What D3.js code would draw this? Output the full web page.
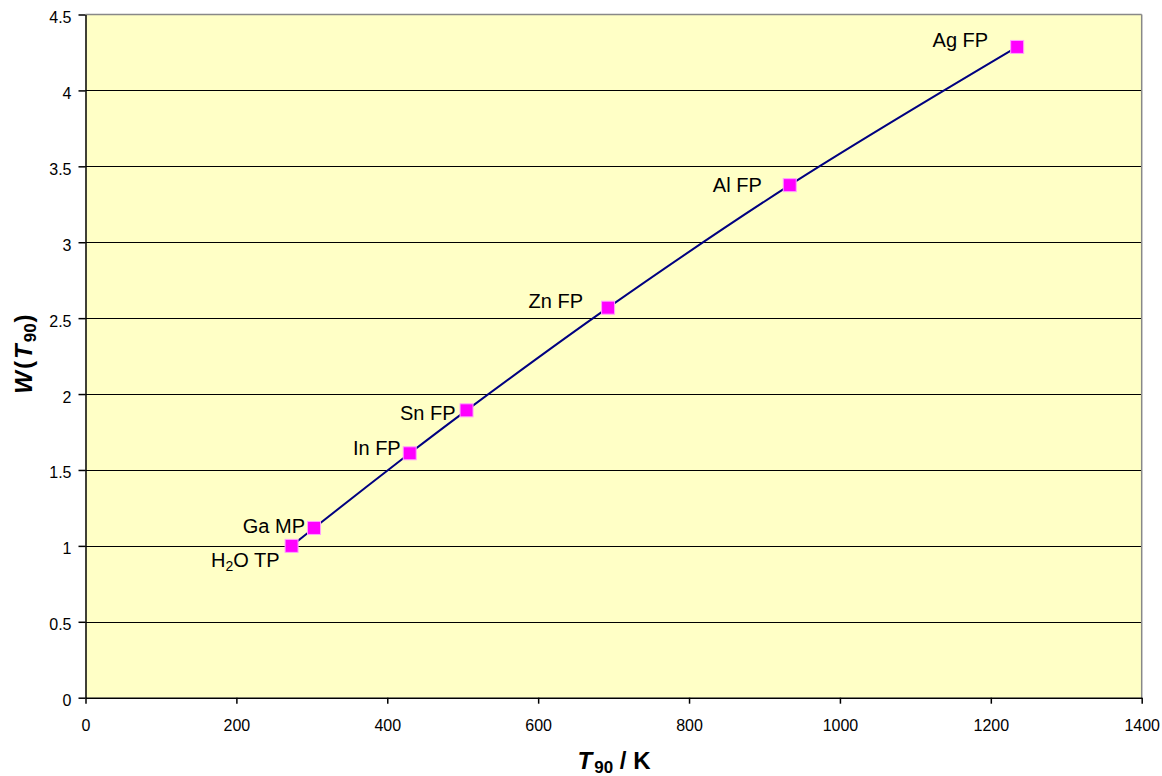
<!DOCTYPE html>
<html><head><meta charset="utf-8">
<script src="https://cdn.jsdelivr.net/npm/d3@7"></script>
<style>
html,body{margin:0;padding:0;background:#fff;}
svg{display:block;font-family:"Liberation Sans",Arial,sans-serif;}
</style></head>
<body>
<svg id="c" width="1162" height="776"></svg>
<script>
const labels = ["H₂O TP","Ga MP","In FP","Sn FP","Zn FP","Al FP","Ag FP"];
const temps = [273.16, 302.9146, 429.7485, 505.078, 692.677, 933.473, 1234.93];
const wvals = [1.0, 1.11807, 1.60980, 1.89279, 2.56891, 3.37600, 4.28642];
const xTicks = [0,200,400,600,800,1000,1200,1400];
const yTicks = [0,0.5,1,1.5,2,2.5,3,3.5,4,4.5];

// label placement (text end, baseline) relative to point — layout only
const labelOffsets = [[-12,21],[-9,5],[-9,2],[-11,10],[-25,0],[-28,7],[-29,0]];

const svg = d3.select("#c");
const L=85.5, R=1141.7, T=14.5, B=697.7;
const x = d3.scaleLinear().domain([0,1400]).range([L,R]);
const y = d3.scaleLinear().domain([0,4.5]).range([B,T]);

svg.append("rect").attr("x",L).attr("y",T).attr("width",R-L).attr("height",B-T).attr("fill","#ffffc6");

// grid
svg.append("g").selectAll("line").data(yTicks.filter(d=>d>0 && d<4.5)).join("line")
  .attr("x1",L).attr("x2",R).attr("y1",d=>Math.round(y(d))+0.5).attr("y2",d=>Math.round(y(d))+0.5)
  .attr("stroke","#000").attr("stroke-width",1.2);
// top & right border
svg.append("line").attr("x1",L).attr("x2",R).attr("y1",T).attr("y2",T).attr("stroke","#888").attr("stroke-width",1.5);
svg.append("line").attr("x1",R).attr("x2",R).attr("y1",T).attr("y2",B).attr("stroke","#888").attr("stroke-width",1.5);

const xAxis = d3.axisBottom(x).tickValues(xTicks).tickSize(6).tickSizeOuter(0).tickPadding(16).tickFormat(d3.format("d"));
const gx = svg.append("g").attr("transform",`translate(0,${B})`).call(xAxis);
gx.selectAll("text").attr("font-size",16).attr("fill","#000").attr("font-family","Liberation Sans, Arial, sans-serif");
gx.selectAll("line,path").attr("stroke","#000").attr("stroke-width",1.5);

const yAxis = d3.axisLeft(y).tickValues(yTicks).tickSize(7).tickSizeOuter(0).tickPadding(7).tickFormat(d=>String(d));
const gy = svg.append("g").attr("transform",`translate(${L},0)`).call(yAxis);
gy.selectAll("text").attr("font-size",16).attr("fill","#000").attr("dy","0.5em").attr("font-family","Liberation Sans, Arial, sans-serif");
gy.selectAll("line,path").attr("stroke","#000").attr("stroke-width",1.5);

const pts = temps.map((t,i)=>[x(t),y(wvals[i])]);
svg.append("path").attr("d",d3.line().curve(d3.curveCatmullRom.alpha(0.5))(pts))
  .attr("fill","none").attr("stroke","#000080").attr("stroke-width",2);

svg.append("g").selectAll("rect").data(pts).join("rect")
  .attr("x",d=>d[0]-6.5).attr("y",d=>d[1]-6.5).attr("width",13).attr("height",13)
  .attr("fill","#ff00ff").attr("stroke","#ffa0ff").attr("stroke-width",1);

const lg = svg.append("g").attr("font-size",20).attr("fill","#000");
labels.forEach((lab,i)=>{
  const [px,py]=pts[i];
  const [dx,dy]=labelOffsets[i];
  const t = lg.append("text").attr("x",px+dx).attr("y",py+dy).attr("text-anchor","end");
  if(i===0){
    t.append("tspan").text("H");
    t.append("tspan").text("2").attr("font-size",14).attr("dy",4);
    t.append("tspan").text("O TP").attr("dy",-4);
  } else t.text(lab);
});

// axis titles
const xt = svg.append("text").attr("x",614).attr("y",769).attr("text-anchor","middle")
  .attr("font-size",24).attr("font-weight","bold");
xt.append("tspan").text("T").attr("font-style","italic");
xt.append("tspan").text("90").attr("font-size",17).attr("dy",4).attr("dx",2);
xt.append("tspan").text(" / K").attr("dy",-4);

const yt = svg.append("text").attr("transform","translate(32,354) rotate(-90)").attr("text-anchor","middle")
  .attr("font-size",24).attr("font-weight","bold");
yt.append("tspan").text("W").attr("font-style","italic");
yt.append("tspan").text("(").attr("dx",2);
yt.append("tspan").text("T").attr("font-style","italic").attr("dx",2);
yt.append("tspan").text("90").attr("font-size",17).attr("dy",4).attr("dx",2);
yt.append("tspan").text(")").attr("dy",-4).attr("dx",1);
</script>
</body></html>
